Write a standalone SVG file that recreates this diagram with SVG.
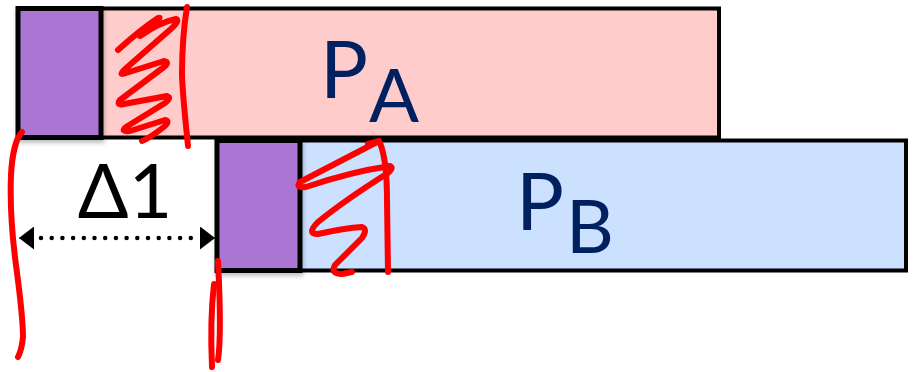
<svg xmlns="http://www.w3.org/2000/svg" width="914" height="372" viewBox="0 0 914 372">
  <defs>
    <style>
      .bar { stroke: #000; stroke-width: 4; }
      .bar-a { fill: #FFCCCC; }
      .bar-b { fill: #CCE0FF; }
      .block { fill: #AA75D3; stroke: #000; stroke-width: 5; filter: url(#shadow); }
      .label { font-family: Lato, "Open Sans", "Liberation Sans", sans-serif; fill: #002060; }
      .dim { font-family: Lato, "Open Sans", "Liberation Sans", sans-serif; fill: #000; }
      .ink { fill: none; stroke: #FF0000; stroke-width: 6; stroke-linecap: round; stroke-linejoin: round; }
      .dots { fill: none; stroke: #000; stroke-width: 4.5; stroke-linecap: round; stroke-dasharray: 0 10.7; }
    </style>
    <filter id="shadow" x="-10%" y="-10%" width="130%" height="130%">
      <feDropShadow dx="1" dy="3" stdDeviation="2" flood-color="#000" flood-opacity="0.25"/>
    </filter>
    <marker id="tip" viewBox="0 0 15 23" refX="15" refY="11.5" markerWidth="15" markerHeight="23" markerUnits="userSpaceOnUse" orient="auto-start-reverse">
      <path d="M0,0 L15,11.5 L0,23 Z" fill="#000"/>
    </marker>
  </defs>

  <!-- process A timeline -->
  <g id="bar-a">
    <rect class="bar bar-a" x="18" y="8.5" width="701" height="129"/>
    <text class="label" x="320" y="98" font-size="80">P</text>
    <text class="label" x="369" y="122" font-size="74">A</text>
  </g>
  <g id="block-a">
    <rect class="block" x="18" y="8.5" width="83" height="129"/>
  </g>

  <!-- process B timeline -->
  <g id="bar-b">
    <rect class="bar bar-b" x="217" y="140.5" width="689" height="130"/>
    <text class="label" x="516" y="230" font-size="80">P</text>
    <text class="label" x="566" y="253" font-size="74">B</text>
  </g>
  <g id="block-b">
    <rect class="block" x="217" y="140.5" width="83" height="130"/>
  </g>

  <!-- offset between the two starts -->
  <g id="connectors">
    <path class="dots" d="M41,238 L200,238"/>
    <line x1="34" y1="238" x2="19" y2="238" stroke="#000" stroke-width="1" marker-end="url(#tip)"/>
    <line x1="200" y1="238" x2="215" y2="238" stroke="#000" stroke-width="1" marker-end="url(#tip)"/>
  </g>
  <g id="delta-label">
    <text class="dim" x="125" y="218" font-size="75" text-anchor="middle">Δ1</text>
  </g>

  <!-- hand-drawn marks -->
  <g id="marks">
    <path class="ink" d="M118,50 Q140,30 158,18 Q163,16 152,25 Q140,34 140,36 Q160,22 176,19 Q180,20 172,28 L124,70 Q118,76 126,73 L164,61 Q170,62 164,67 L120,100 Q116,106 124,104 L167,96 Q172,98 165,103 L126,127 Q120,132 130,131 L165,120 Q170,121 165,126 Q150,138 142,141"/>
    <path class="ink" d="M187,7 C184,25 182,50 182,75 C183,100 186,125 188,146"/>
    <path class="ink" d="M22,132 C16,138 12,155 11,175 C10,200 12,235 16,265 C20,295 23,320 23,337 C22,348 20,353 18,357"/>
    <path class="ink" d="M218,261 C220,300 221,340 218,360"/>
    <path class="ink" d="M214,284 C211,310 211,345 212,367"/>
    <path class="ink" d="M368,144 L379,141 L300,182 Q295,188 306,187 Q350,172 390,166 Q394,168 388,173 Q345,200 318,222 Q306,234 318,234 Q345,228 362,227 Q368,229 362,238 Q345,255 335,265 Q330,274 342,274 L352,272"/>
    <path class="ink" d="M380,143 Q387,160 387,200 L388,272"/>
  </g>
</svg>
